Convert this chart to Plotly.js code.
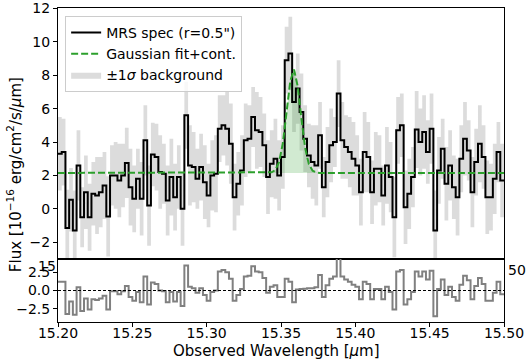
<!DOCTYPE html>
<html>
<head>
<meta charset="utf-8">
<script src="https://cdn.plot.ly/plotly-3.0.1.min.js"></script>
<style>
  html, body { margin: 0; padding: 0; background: #fff; }
  #chart { width: 528px; height: 362px; }
</style>
</head>
<body>
<div id="chart"></div>
<script>
// wavelength bin centres [um] (one padding bin on each side of the plotted range)
const wave = [
  15.19875,
  15.20125, 15.20375, 15.20625, 15.20875, 15.21125, 15.21375, 15.21625, 15.21875,
  15.22125, 15.22375, 15.22625, 15.22875, 15.23125, 15.23375, 15.23625, 15.23875,
  15.24125, 15.24375, 15.24625, 15.24875, 15.25125, 15.25375, 15.25625, 15.25875,
  15.26125, 15.26375, 15.26625, 15.26875, 15.27125, 15.27375, 15.27625, 15.27875,
  15.28125, 15.28375, 15.28625, 15.28875, 15.29125, 15.29375, 15.29625, 15.29875,
  15.30125, 15.30375, 15.30625, 15.30875, 15.31125, 15.31375, 15.31625, 15.31875,
  15.32125, 15.32375, 15.32625, 15.32875, 15.33125, 15.33375, 15.33625, 15.33875,
  15.34125, 15.34375, 15.34625, 15.34875, 15.35125, 15.35375, 15.35625, 15.35875,
  15.36125, 15.36375, 15.36625, 15.36875, 15.37125, 15.37375, 15.37625, 15.37875,
  15.38125, 15.38375, 15.38625, 15.38875, 15.39125, 15.39375, 15.39625, 15.39875,
  15.40125, 15.40375, 15.40625, 15.40875, 15.41125, 15.41375, 15.41625, 15.41875,
  15.42125, 15.42375, 15.42625, 15.42875, 15.43125, 15.43375, 15.43625, 15.43875,
  15.44125, 15.44375, 15.44625, 15.44875, 15.45125, 15.45375, 15.45625, 15.45875,
  15.46125, 15.46375, 15.46625, 15.46875, 15.47125, 15.47375, 15.47625, 15.47875,
  15.48125, 15.48375, 15.48625, 15.48875, 15.49125, 15.49375, 15.49625, 15.49875,
  15.50125
];

// MRS spectrum, 1e-16 erg/cm2/s/um
const flux = [
  3.3, 3.3, 3.4, -1.15, 0.55, -1.3, 2.6, -0.5, 1.0, -0.5,
  0.9, 0.8, 1.0, 1.4, -0.45, 2.0, 2.0, 1.7, 2.0, 2.75,
  1.3, 0.6, 1.8, 0.6, 4.1, 0.2, 3.25, 3.1, 2.2, 2.1,
  0.5, 1.9, 0.7, 1.9, 0.0, 5.6, 2.6, 2.5, 1.8, 2.5,
  1.6, 0.8, 2.0, 2.1, 4.8, 5.0, 4.8, 3.9, 0.7, 1.5,
  2.3, 4.1, 4.2, 5.5, 4.7, 4.6, 3.8, 1.9, 2.7, 3.0,
  2.0, 3.1, 8.9, 9.3, 6.4, 7.2, 5.8, 4.2, 3.2, 2.8,
  2.6, 4.4, 1.3, 2.8, 3.8, 4.0, 6.9, 4.1, 3.7, 3.4,
  3.0, 2.6, 1.0, 3.4, 3.1, 1.0, 2.4, 2.4, 0.8, 2.6,
  1.9, -0.5, 4.7, 5.0, 0.1, 0.9, 1.9, 4.75, 4.0, 4.6,
  3.4, 4.8, -1.3, 2.3, 3.6, 1.5, 2.6, 1.3, 0.7, 3.0,
  4.2, 3.5, 1.0, 2.8, 3.9, 3.1, 0.7, 0.7, 1.8, 3.4,
  1.7, 1.7
];

// 1-sigma background per bin
const sigma = [
  2.1, 2.2, 2.0, 2.3, 1.9, 2.4, 2.1, 1.8, 2.2, 2.0,
  1.9, 2.3, 2.1, 2.0, 2.4, 1.8, 2.0, 2.2, 1.9, 2.1,
  2.3, 2.0, 1.8, 2.2, 2.1, 2.4, 1.9, 2.0, 2.2, 1.8,
  2.1, 2.3, 2.0, 1.9, 2.2, 2.0, 2.4, 2.1, 1.8, 2.0,
  2.2, 1.9, 2.1, 2.3, 2.0, 1.8, 2.2, 2.4, 2.0, 1.9,
  2.1, 2.2, 2.0, 1.8, 2.3, 2.1, 1.9, 2.2, 2.0, 2.4,
  2.1, 1.9, 2.0, 2.2, 1.8, 2.1, 2.3, 2.0, 1.9, 2.2,
  2.4, 2.0, 1.8, 2.1, 2.2, 1.5, 2.0, 2.3, 1.9, 2.1,
  2.2, 1.8, 2.0, 2.4, 2.1, 1.9, 2.2, 2.0, 1.8, 2.3,
  2.1, 2.4, 2.0, 1.9, 2.2, 2.1, 1.8, 2.3, 2.0, 2.2,
  1.9, 2.1, 2.4, 2.0, 1.8, 2.2, 2.1, 1.9, 2.3, 2.0,
  2.2, 1.8, 2.1, 2.0, 2.3, 1.9, 2.2, 2.0, 2.1, 1.8,
  2.2, 2.0
];

// residual (data - model)
const resid = [
  1.2, 1.2, 1.2, -3.2, -1.5, -3.3, 0.45, -2.8, -1.1, -2.6,
  -1.2, -1.3, -1.1, -0.7, -2.6, -0.1, -0.1, -0.5, -0.1, 0.6,
  -0.9, -1.4, -0.2, -1.6, 1.9, -1.9, 1.1, 0.9, 0.0, -0.1,
  -1.6, -0.2, -1.5, -0.2, -2.1, 3.4, 0.5, 0.3, -0.3, 0.3,
  -0.6, -1.4, -0.2, 0.0, 2.6, 2.8, 2.5, 1.6, -1.4, -0.6,
  0.2, 1.9, 2.0, 3.3, 2.6, 2.5, 1.7, -0.3, 0.5, 0.7,
  -0.9, -0.9, 1.6, 1.2, -1.6, 0.15, 0.2, 0.25, 0.3, 0.3,
  0.45, 2.1, -0.9, 0.7, 1.6, 1.9, 5.0, 1.9, 1.5, 1.2,
  0.8, 0.5, -1.2, 1.2, 0.9, -1.2, 0.2, 0.2, -1.2, 0.5,
  -0.2, -2.6, 2.6, 2.8, -1.9, -1.2, -0.2, 2.6, 1.9, 2.6,
  1.5, 2.7, -3.5, 0.2, 1.5, -0.6, 0.5, -0.9, -1.4, 0.8,
  2.0, 1.4, -1.2, 0.6, 1.7, 0.9, -1.4, -1.4, -0.3, 1.2,
  -0.5, -0.5
];

// Gaussian + continuum model, sampled on the bin grid around the line
const contLevel = 2.15;
const fitWave = [15.2000, 15.34125, 15.34375, 15.34625, 15.34875, 15.35125, 15.35375, 15.35625,
  15.35875, 15.36125, 15.36375, 15.36625, 15.36875, 15.37125, 15.37375, 15.37625, 15.5000];
const fitFlux = [2.15, 2.16, 2.19, 2.33, 2.81, 3.94, 5.79, 7.65,
  8.34, 7.33, 5.38, 3.65, 2.67, 2.28, 2.18, 2.15, 2.15];

const bandUpper = flux.map((f, i) => f + sigma[i]);
const bandLower = flux.map((f, i) => f - sigma[i]);
const lineX = fitWave.slice(1, -1);
const lineY = fitFlux.slice(1, -1);
const lineBase = lineX.map(() => contLevel);

const traces = [
    {
        x: wave, y: bandUpper, xaxis: "x", yaxis: "y",
        mode: "lines", line: { shape: "hvh", width: 0, color: "rgba(0,0,0,0)" },
        hoverinfo: "skip", showlegend: false,
    },
    {
        x: wave, y: bandLower, xaxis: "x", yaxis: "y",
        mode: "lines", line: { shape: "hvh", width: 0, color: "rgba(0,0,0,0)" },
        fill: "tonexty", fillcolor: "rgba(211,211,211,0.8)",
        name: "±1<i>σ</i> background", legendrank: 3,
    },
    {
        x: lineX, y: lineBase, xaxis: "x", yaxis: "y",
        mode: "lines", line: { width: 0, color: "rgba(0,0,0,0)" },
        hoverinfo: "skip", showlegend: false,
    },
    {
        x: lineX, y: lineY, xaxis: "x", yaxis: "y",
        mode: "lines", line: { width: 0, color: "rgba(0,0,0,0)" },
        fill: "tonexty", fillcolor: "rgba(44,160,44,0.22)",
        hoverinfo: "skip", showlegend: false,
    },
    {
        x: wave, y: flux, xaxis: "x", yaxis: "y",
        mode: "lines", line: { shape: "hvh", color: "#000000", width: 2 },
        name: "MRS spec (r=0.5\")", legendrank: 1,
    },
    {
        x: fitWave, y: fitFlux, xaxis: "x", yaxis: "y",
        mode: "lines", line: { color: "#2ca02c", width: 2, dash: "7px,3px" },
        name: "Gaussian fit+cont.", legendrank: 2,
    },
    {
        x: wave, y: resid, xaxis: "x2", yaxis: "y2",
        mode: "lines", line: { shape: "hvh", color: "#808080", width: 2 },
        showlegend: false,
    },
];

const axisCommon = {
    showline: true, linecolor: "#000", linewidth: 1, mirror: true,
    showgrid: false, zeroline: false, automargin: false,
    tickcolor: "#000", ticklen: 4, tickwidth: 1,
    tickfont: { size: 14, color: "#000" },
};

const splitY = 63 / 314; // main / residual boundary (paper units)

const layout = {
    width: 528,
    height: 362,
    margin: { l: 58, r: 24, t: 8, b: 40 },
    paper_bgcolor: "#fff",
    plot_bgcolor: "#fff",
    font: { family: "DejaVu Sans, sans-serif", size: 14, color: "#000" },
    showlegend: true,
    legend: {
        x: 0.016, y: 0.975, xanchor: "left", yanchor: "top",
        traceorder: "normal",
        bgcolor: "rgba(255,255,255,0.8)", bordercolor: "#cccccc", borderwidth: 1,
        font: { size: 14 }, itemwidth: 30, tracegroupgap: 0,
    },
    xaxis: {
        ...axisCommon,
        anchor: "y", domain: [0, 1], range: [15.2, 15.5],
        showticklabels: false, ticks: "", matches: "x2",
    },
    yaxis: {
        ...axisCommon,
        anchor: "x", domain: [splitY, 1], range: [-3, 12.02],
        tickvals: [-2, 0, 2, 4, 6, 8, 10, 12], ticks: "outside",
        ticklabeloverflow: "allow",
    },
    xaxis2: {
        ...axisCommon,
        anchor: "y2", domain: [0, 1], range: [15.2, 15.5],
        dtick: 0.05, tick0: 15.2, tickformat: ".2f", ticks: "outside",
        ticklabeloverflow: "allow", ticklabelstandoff: -6,
    },
    yaxis2: {
        ...axisCommon,
        anchor: "x2", domain: [0, splitY], range: [-4.3, 4.3],
        tickvals: [-2.5, 0, 2.5], tickformat: ".1f", ticks: "outside",
    },
    shapes: [
        {
            type: "line", xref: "x2 domain", yref: "y2",
            x0: 0, x1: 1, y0: 0, y1: 0,
            line: { color: "#000", width: 1, dash: "3px,2px" },
        },
    ],
    annotations: [
        {
            text: "Flux [10<sup>−16</sup> erg/cm<sup>2</sup>/s/<i>μ</i>m]",
            xref: "paper", yref: "paper", x: -0.097, y: 0.47,
            xanchor: "center", yanchor: "middle", textangle: -90,
            showarrow: false, font: { size: 15 },
        },
        {
            text: "Observed Wavelength [<i>μ</i>m]",
            xref: "paper", yref: "paper", x: 0.49, y: -0.093,
            xanchor: "center", yanchor: "middle",
            showarrow: false, font: { size: 15 },
        },
        {
            text: "15", xref: "paper", yref: "paper", x: -0.025, y: 0.177,
            xanchor: "center", yanchor: "middle", showarrow: false, font: { size: 14 },
        },
        {
            text: "50", xref: "paper", yref: "paper", x: 1.004, y: 0.166,
            xanchor: "left", yanchor: "middle", showarrow: false, font: { size: 14 },
        },
    ],
};

Plotly.newPlot("chart", traces, layout, { displayModeBar: false, staticPlot: true });
</script>
</body>
</html>
